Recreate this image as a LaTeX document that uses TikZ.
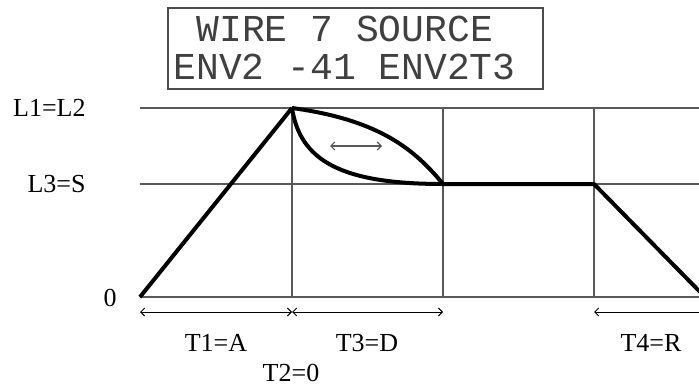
\documentclass[tikz,border=0pt]{standalone}
\usepackage{fontspec}
\setmainfont{Liberation Serif}
\newfontfamily\lcdfont{Liberation Mono}
\usetikzlibrary{arrows.meta, positioning, calc}

\begin{document}
\begin{tikzpicture}[
	x=0.5pt, y=-0.5pt,
	font=\fontsize{13}{15}\selectfont,
	>={Straight Barb[length=2pt, width=4pt]},
	grid/.style={draw=black!65, line width=0.7pt},
	env/.style={draw=black, line width=2pt, line join=round},
	span/.style={<->, draw=black, line width=0.5pt},
	lcdline/.style={anchor=base west, inner sep=0pt, text=black!75, font=\lcdfont\fontsize{19}{21}\selectfont},
	axislabel/.style={anchor=east, inner sep=0pt},
	]
	
	\useasboundingbox (0,0) rectangle (699,385);
	\clip (0,0) rectangle (699,385);
	
	% ---- LCD display ----
	\draw[draw=black!70, line width=0.7pt] (168,8) rectangle (543,89);
	\node[lcdline] (lcd1) at (196,42) {WIRE 7 SOURCE};
	\node[lcdline] (lcd2) at (173,79) {ENV2 -41 ENV2T3};
	
	% ---- grid ----
	\coordinate (o) at (140,297);
	\coordinate (peak) at (292,108);
	\coordinate (dend) at (443,184);
	\coordinate (rstart) at (594,184);
	\coordinate (rend) at (705,297);
	
	\draw[grid] (140,108) -- (699,108);
	\draw[grid] (140,184) -- (699,184);
	\draw[grid] (140,297) -- (699,297);
	\foreach \x in {292,443,594}
		\draw[grid] (\x,108) -- (\x,297);
	
	\node[axislabel] (l1) at (86,108) {L1=L2};
	\node[axislabel] (l3) at (86,184) {L3=S};
	\node (zero) at (110,298) {0};
	
	% ---- envelope ----
	\draw[env] (o) -- (peak);
	\draw[env] (peak) .. controls (380,120) and (415,150) .. (dend);
	\draw[env] (peak) .. controls (300,160) and (340,184) .. (dend);
	\draw[env] (dend) -- (rstart) -- (rend);
	\draw[<->, draw=black!65, line width=0.6pt] (330,146) -- (382,146);
	
	% ---- time spans ----
	\coordinate (s0) at (140,312);
	\coordinate (s1) at (292,312);
	\coordinate (s2) at (443,312);
	\coordinate (s3) at (594,312);
	\coordinate (s4) at (710,312);
	\draw[span] (s0) -- (s1);
	\draw[span] (s1) -- (s2);
	\draw[span] (s3) -- (s4);
	
	\node (t1) at (216,343) {T1=A};
	\node (t3) at (367,343) {T3=D};
	\node (t2) at (291,373) {T2=0};
	\node (t4) at (651,343) {T4=R};
	
\end{tikzpicture}
\end{document}
